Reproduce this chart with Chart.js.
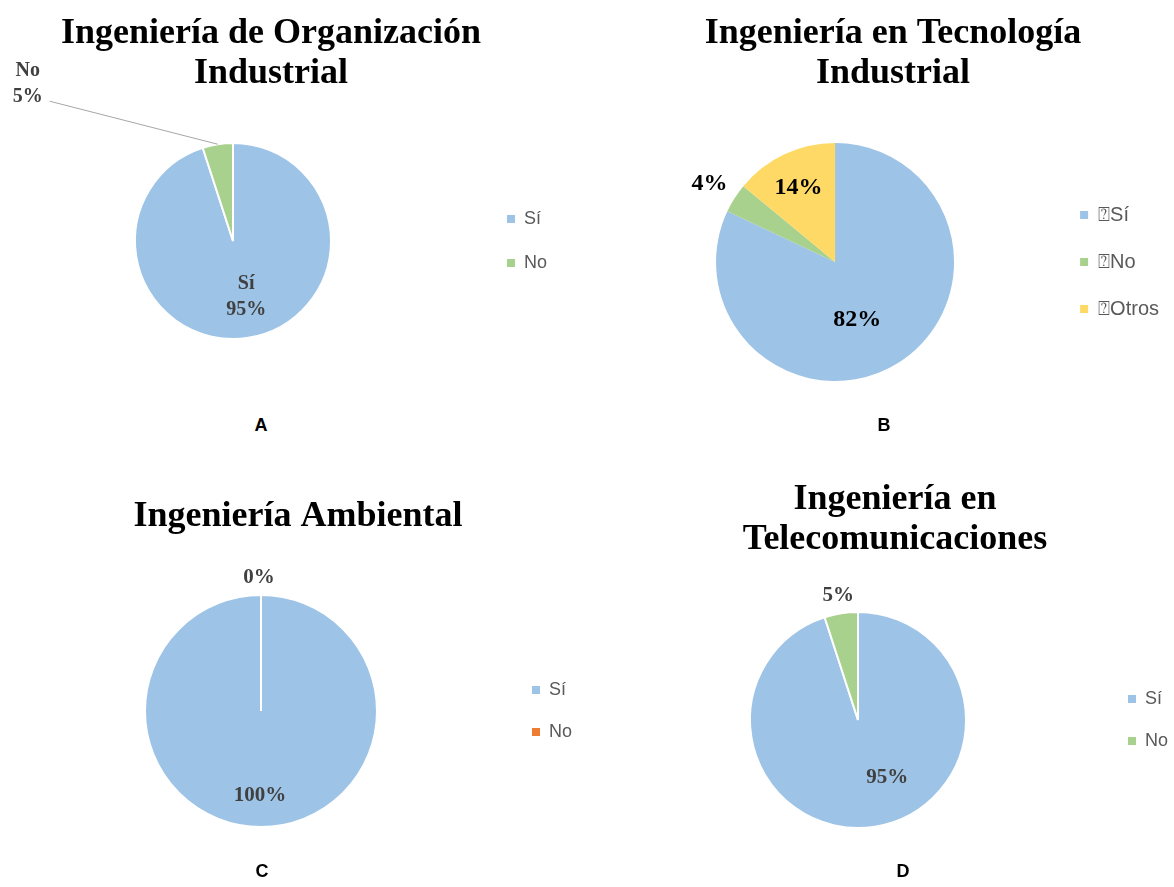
<!DOCTYPE html>
<html>
<head>
<meta charset="utf-8">
<script src="https://cdn.jsdelivr.net/npm/chart.js@4.4.1/dist/chart.umd.min.js"></script>
<style>
  body { margin: 0; background: #fff; width: 1174px; height: 887px; overflow: hidden; position: relative; }
  canvas { position: absolute; }
  .tag { position: absolute; font: bold 18px "Liberation Sans", Arial, sans-serif; color: #000; transform: translate(-50%, -50%); }
</style>
</head>
<body>
<canvas id="chartA" width="572" height="388" style="left:-15px; top:0px"></canvas>
<canvas id="chartB" width="552" height="430" style="left:617px; top:0px"></canvas>
<canvas id="chartC" width="568" height="402" style="left:14px; top:483px"></canvas>
<canvas id="chartD" width="566" height="414" style="left:612px; top:466px"></canvas>
<div class="tag" style="left:261px; top:425px">A</div>
<div class="tag" style="left:884px; top:425px">B</div>
<div class="tag" style="left:262px; top:871px">C</div>
<div class="tag" style="left:903px; top:871px">D</div>
<script>
// Data
const orgTitle = ["Ingeniería de Organización", "Industrial"];
const orgLabels = ["Sí", "No"];
const orgValues = [95, 5];

const tecTitle = ["Ingeniería en Tecnología", "Industrial"];
const tecLabels = ["\u2370Sí", "\u2370No", "\u2370Otros"];
const tecValues = [82, 4, 14];

const ambTitle = ["Ingeniería Ambiental"];
const ambLabels = ["Sí", "No"];
const ambValues = [100, 0];

const telTitle = ["Ingeniería en", "Telecomunicaciones"];
const telLabels = ["Sí", "No"];
const telValues = [95, 5];

const BLUE = "#9DC3E6", GREEN = "#A9D18E", YELLOW = "#FFD966", ORANGE = "#ED7D31";

// draws the percentage labels next to / inside each slice
const sliceLabels = {
	id: "sliceLabels",
	afterDatasetsDraw(chart, args, opts) {
		const ctx = chart.ctx;
		const meta = chart.getDatasetMeta(0);
		const values = chart.data.datasets[0].data;
		ctx.save();
		ctx.font = "bold " + opts.size + "px 'Liberation Serif', 'Times New Roman', serif";
		ctx.fillStyle = opts.color;
		ctx.textAlign = "center";
		ctx.textBaseline = "middle";
		meta.data.forEach((arc, i) => {
			const p = opts.places[i];
			if (!p) return;
			const mid = (arc.startAngle + arc.endAngle) / 2;
			const r = arc.outerRadius;
			const x = arc.x + Math.cos(mid) * r * p.f + (p.dx || 0);
			const y = arc.y + Math.sin(mid) * r * p.f + (p.dy || 0);
			const lines = opts.showName ? [chart.data.labels[i], values[i] + "%"] : [values[i] + "%"];
			const lh = opts.lineHeight || opts.size;
			lines.forEach((t, k) => {
				ctx.fillText(t, x, y + (k - (lines.length - 1) / 2) * lh);
			});
			if (p.line) {
				ctx.strokeStyle = "#a6a6a6";
				ctx.lineWidth = 1;
				ctx.beginPath();
				ctx.moveTo(x + p.line[0], y + p.line[1]);
				ctx.lineTo(arc.x + Math.cos(mid) * r, arc.y + Math.sin(mid) * r);
				ctx.stroke();
			}
		});
		ctx.restore();
	}
};

function makePie(id, title, labels, values, colors, cfg) {
	const ctx = document.getElementById(id).getContext("2d");
	return new Chart(ctx, {
		type: "pie",
		data: {
			labels,
			datasets: [{
				data: values,
				backgroundColor: colors,
				borderColor: "#ffffff",
				borderWidth: cfg.border,
				hoverOffset: 0,
				radius: cfg.radius
			}]
		},
		options: {
			responsive: false,
			animation: false,
			events: [],
			layout: { padding: 0 },
			plugins: {
				title: {
					display: true,
					text: title,
					color: "#000",
					padding: { top: 14, bottom: 0 },
					font: { family: "'Liberation Serif', 'Times New Roman', serif", size: 36, weight: "bold", lineHeight: "40px" }
				},
				legend: {
					display: true,
					position: "right",
					fullSize: false,
					labels: {
						boxWidth: 8,
						boxHeight: 8,
						padding: cfg.legendPad,
						color: "#595959",
						font: { family: "'Liberation Sans', Arial, sans-serif", size: cfg.legendSize || 18 },
						generateLabels: (chart) => Chart.overrides.pie.plugins.legend.labels.generateLabels(chart)
							.map(l => ({ ...l, lineWidth: 0 }))
					}
				},
				tooltip: { enabled: false },
				sliceLabels: cfg.labels
			}
		},
		plugins: [sliceLabels]
	});
}

makePie("chartA", orgTitle, orgLabels, orgValues, [BLUE, GREEN], {
	radius: 98, border: 2, legendPad: 26,
	labels: {
		size: 20, lineHeight: 26, color: "#404040", showName: true,
		places: [{ f: 0.6, dx: 4, dy: -2 }, { f: 1, dx: -190, dy: -60, line: [22, 17] }]
	}
});

makePie("chartB", tecTitle, tecLabels, tecValues, [BLUE, GREEN, YELLOW], {
	radius: 119, border: 0, legendPad: 27, legendSize: 20,
	labels: {
		size: 24, color: "#000000",
		places: [{ f: 0.6, dx: -16, dy: -2 }, { f: 1.28, dx: 3, dy: 3 }, { f: 0.7, dx: -1, dy: 1 }]
	}
});

makePie("chartC", ambTitle, ambLabels, ambValues, [BLUE, ORANGE], {
	radius: 116, border: 2, legendPad: 24,
	labels: {
		size: 21, color: "#404040",
		places: [{ f: 0.73, dx: -1, dy: 0 }, { f: 1.15, dx: -2, dy: 0 }]
	}
});

makePie("chartD", telTitle, telLabels, telValues, [BLUE, GREEN], {
	radius: 108, border: 2, legendPad: 24,
	labels: {
		size: 21, color: "#404040",
		places: [{ f: 0.6, dx: 19, dy: -6 }, { f: 1.17, dx: 0, dy: 0 }]
	}
});
</script>
</body>
</html>
